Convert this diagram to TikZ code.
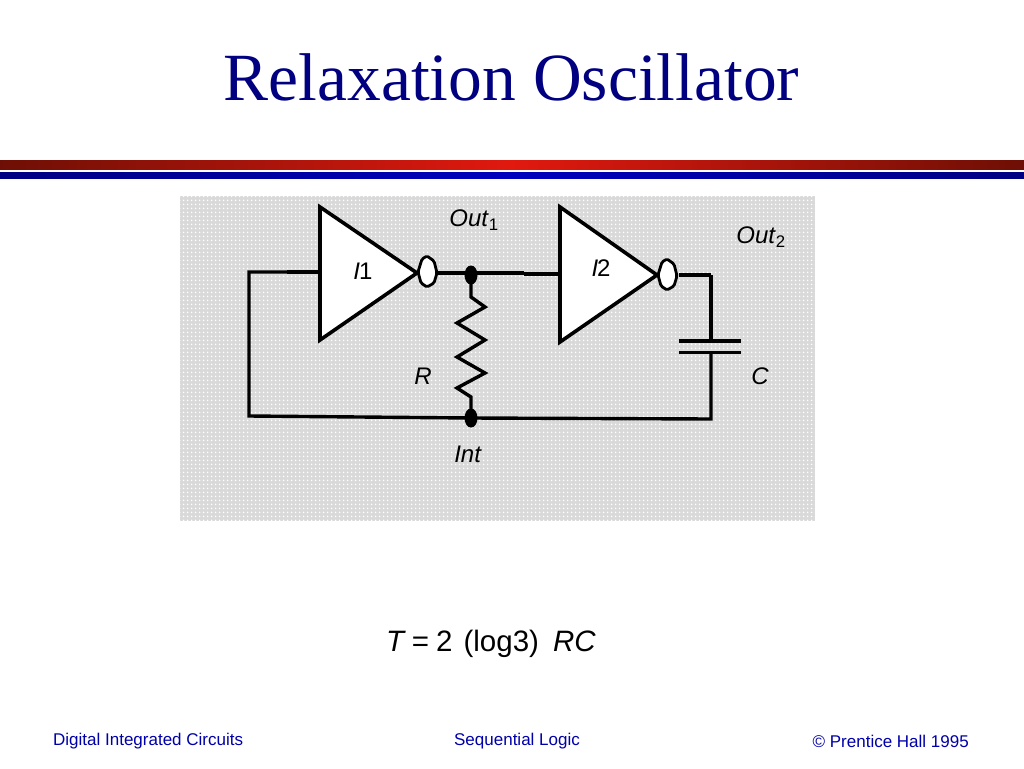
\documentclass[tikz,border=0pt]{standalone}
\usepackage{fontspec}
\setmainfont{Liberation Serif}
\setsansfont{Liberation Sans}
\usetikzlibrary{positioning, shapes.geometric, patterns.meta}
\definecolor{titleblue}{RGB}{0,0,128}
\definecolor{footblue}{RGB}{0,0,170}
\definecolor{bardark}{RGB}{110,15,5}
\definecolor{barred}{RGB}{225,25,15}
\definecolor{bluedark}{RGB}{0,0,130}
\definecolor{bluemid}{RGB}{0,0,190}
\tikzset{
	wire/.style={line width=3.4pt, line cap=butt, line join=miter},
	thickwire/.style={line width=4.2pt, line cap=butt},
	gate/.style={line width=3.6pt, fill=white, line join=miter},
	bubbleline/.style={line width=2.8pt, fill=white, rounded corners=1.5pt},
	junction/.style={ellipse, fill=black, inner sep=0pt, minimum width=13pt, minimum height=19pt},
	lbl/.style={font=\sffamily\fontsize{24}{26}\selectfont, inner sep=0pt},
	foot/.style={font=\sffamily\fontsize{17}{19}\selectfont, text=footblue, inner sep=0pt}
}
% inverter output bubble around a named coordinate
\newcommand{\invbubble}[1]{%
	\draw[bubbleline] (#1) ++(-9,0) -- ++(4,-13) -- ++(5,-3) -- ++(7,5) -- ++(3,12)
	-- ++(-3,10) -- ++(-7,4) -- ++(-6,-4) -- cycle;}
\begin{document}
\begin{tikzpicture}[x=1pt, y=-1pt]
	\useasboundingbox (0,0) rectangle (1024,768);
	% ====== title and bars ======
	\node[font=\fontsize{67.5}{70}\selectfont, text=titleblue, inner sep=0pt] (title) at (511.5,77) {Relaxation Oscillator};
	\shade[left color=bardark, right color=bardark, middle color=barred] (0,160) rectangle (1024,169);
	\shade[left color=bluedark, right color=bluedark, middle color=bluemid] (0,172) rectangle (1024,178);
	
	% ====== dotted panel ======
	\fill[gray!30] (180,196) rectangle (815,521);
	\fill[pattern={Dots[distance=4pt, radius=1.1pt]}, pattern color=white] (180,196) rectangle (815,521);
	
	% ====== coordinates ======
	\coordinate (IA) at (320,272);
	\coordinate (IB) at (560,274);
	\coordinate (FB) at (249,272);
	\coordinate (FC) at (249,416);
	\coordinate (CT) at (711,275);
	\coordinate (CB) at (711,419);
	\coordinate (PA) at (711,341);
	\coordinate (PB) at (711,352);
	\coordinate (b1) at (427,272);
	\coordinate (b2) at (667,275);
	\coordinate (OA) at (438,273);
	\coordinate (OB) at (679,275);
	
	% ====== wires ======
	\node[junction] (out1) at (471,275) {};
	\node[junction] (int) at (471,418) {};
	\draw[wire] (IA) -- (FB) -- (FC) -- (int.center) -- (CB) -- (PB);
	\draw[thickwire] (IA) -- (287,272);
	\draw[wire] (PA) -- (CT);
	\draw[thickwire] (OB) -- (CT);
	\draw[thickwire] (OA) -- (524,273);
	\draw[thickwire] (524,274) -- (IB);
	\draw[wire] (out1.center) -- (471,297) -- (485,307) -- (457,323) -- (485,340) -- (457,357)
	-- (485,373) -- (457,388) -- (471,397) -- (int.center);
	
	% ====== capacitor plates ======
	\draw[line width=4.2pt] (679,341) -- (741,341);
	\draw[line width=3pt] (679,352) -- (741,352);
	
	% ====== inverters ======
	\draw[gate] (320,207) -- (417,273) -- (320,340) -- cycle;
	\draw[gate] (560,207) -- (657,275) -- (560,342) -- cycle;
	\invbubble{b1}
	\invbubble{b2}
	
	% ====== labels ======
	\node[lbl] (i1) at (363,271) {\textit{I}\kern-1pt 1};
	\node[lbl] (i2) at (601,268) {\textit{I}\kern-1pt 2};
	\node[lbl] (o1) at (474,220) {\textit{Out}\textsubscript{1}};
	\node[lbl] (o2) at (761,237) {\textit{Out}\textsubscript{2}};
	\node[lbl] (r) at (423,376) {\textit{R}};
	\node[lbl] (c) at (760,376) {\textit{C}};
	\node[lbl] (intl) at (468,454) {\textit{Int}};
	
	% ====== formula and footer ======
	\node[lbl, font=\sffamily\fontsize{29.5}{32}\selectfont] (eq) at (491,644) {\textit{T}\kern6pt =\kern7pt 2\kern11pt (log3)\kern14pt \textit{RC}};
	\node[foot, anchor=west] (f1) at (53,741) {Digital Integrated Circuits};
	\node[foot] (f2) at (517,741) {Sequential Logic};
	\node[foot, anchor=east] (f3) at (969,741) {© Prentice Hall 1995};
\end{tikzpicture}
\end{document}
